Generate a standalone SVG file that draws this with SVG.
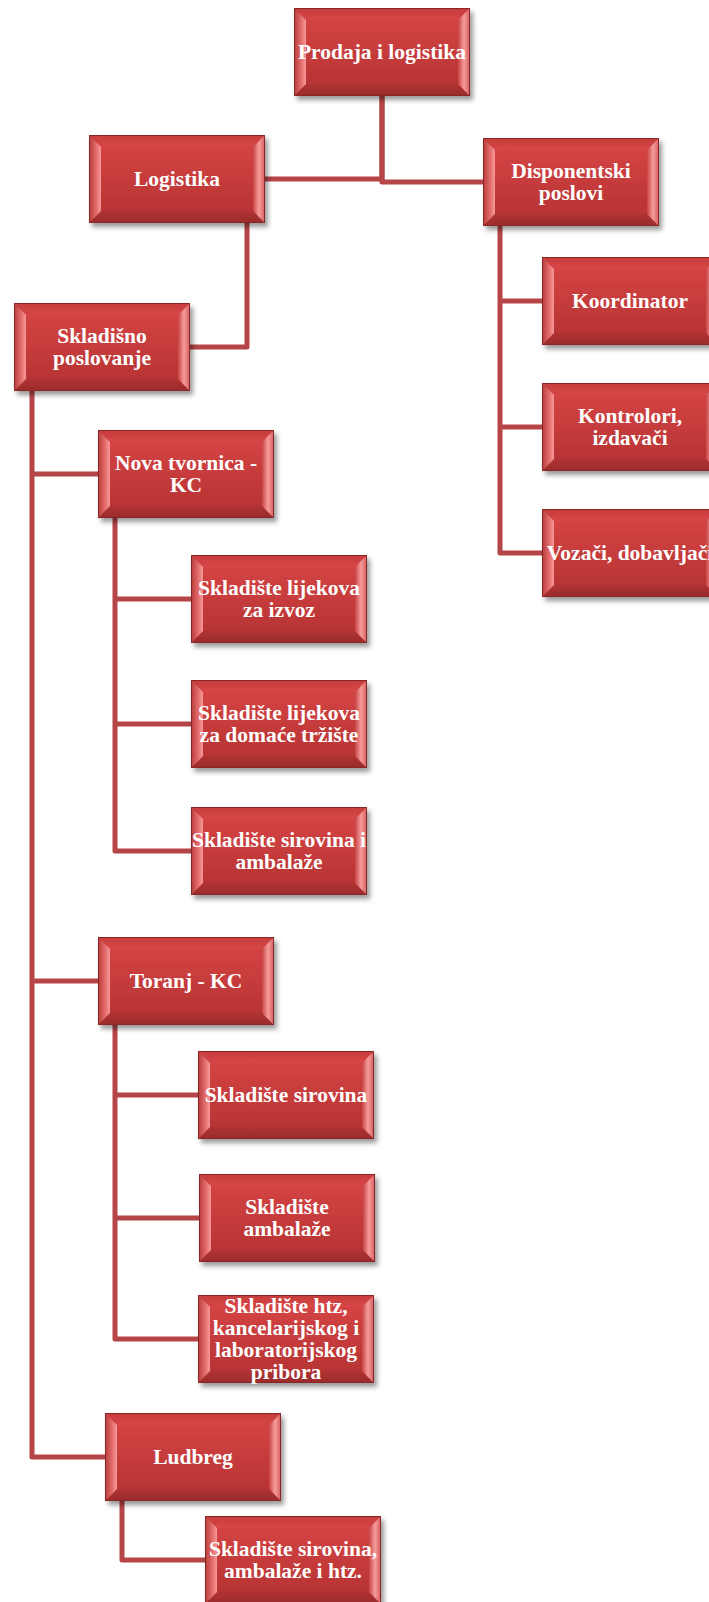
<svg xmlns="http://www.w3.org/2000/svg" xmlns:xlink="http://www.w3.org/1999/xlink" width="709" height="1602" viewBox="0 0 709 1602">
<style>
.lbl{font-family:"Liberation Serif","Times New Roman",serif;font-weight:bold;font-size:21.5px;fill:#ffffff;text-anchor:middle}
.con{fill:none;stroke:#b64548;stroke-width:5;stroke-linejoin:round;stroke-linecap:butt}
</style>
<defs>
<linearGradient id="gFace" x1="0" y1="0" x2="0" y2="1"><stop offset="0" stop-color="#d44343"/><stop offset="1" stop-color="#b83434"/></linearGradient>
<linearGradient id="gTop" x1="0" y1="0" x2="0" y2="1"><stop offset="0" stop-color="#c63c3c"/><stop offset="1" stop-color="#d84747"/></linearGradient>
<linearGradient id="gBot" x1="0" y1="0" x2="0" y2="1"><stop offset="0" stop-color="#b03333"/><stop offset="1" stop-color="#9a2b2b"/></linearGradient>
<linearGradient id="gLeft" x1="0" y1="0" x2="1" y2="0"><stop offset="0" stop-color="#b63a3a"/><stop offset="0.6" stop-color="#e46c6c"/><stop offset="1" stop-color="#f89a9a"/></linearGradient>
<linearGradient id="gRight" x1="0" y1="0" x2="1" y2="0"><stop offset="0" stop-color="#c84444"/><stop offset="0.5" stop-color="#f69c9c"/><stop offset="1" stop-color="#d55c5c"/></linearGradient>
<filter id="sh" x="-10%" y="-10%" width="125%" height="130%"><feDropShadow dx="3" dy="4" stdDeviation="2.5" flood-color="#000" flood-opacity="0.4"/></filter>
<g id="bx">
<rect x="0" y="0" width="176" height="88" fill="#b83636" filter="url(#sh)"/>
<polygon points="0,0 176,0 164,12 12,12" fill="url(#gTop)"/>
<polygon points="0,88 176,88 164,76 12,76" fill="url(#gBot)"/>
<polygon points="0,0 12,12 12,76 0,88" fill="url(#gLeft)"/>
<polygon points="176,0 164,12 164,76 176,88" fill="url(#gRight)"/>
<rect x="12" y="12" width="152" height="64" fill="url(#gFace)"/>
<rect x="0.5" y="0.5" width="175" height="87" fill="none" stroke="#8a2626" stroke-width="1"/>
</g>
</defs>
<rect width="709" height="1602" fill="#ffffff"/>
<g id="connectors">
<path class="con" d="M382 96 V179 H265"/>
<path class="con" d="M382 96 V182 H483"/>
<path class="con" d="M247 223 V347 H190"/>
<path class="con" d="M500 226 V553 H542 M500 301 H542 M500 427 H542"/>
<path class="con" d="M32 391 V1457 H105 M32 474 H98 M32 981 H98"/>
<path class="con" d="M115 518 V851 H191 M115 599 H191 M115 724 H191"/>
<path class="con" d="M115 1025 V1339 H198 M115 1095 H198 M115 1218 H199"/>
<path class="con" d="M122 1501 V1560 H205"/>
</g>
<g id="n1" transform="translate(294,8)"><use xlink:href="#bx"/><text class="lbl" x="88" y="51">Prodaja i logistika</text></g>
<g id="n2" transform="translate(89,135)"><use xlink:href="#bx"/><text class="lbl" x="88" y="51">Logistika</text></g>
<g id="n3" transform="translate(483,138)"><use xlink:href="#bx"/><text class="lbl" x="88" y="40">Disponentski</text><text class="lbl" x="88" y="62">poslovi</text></g>
<g id="n4" transform="translate(14,303)"><use xlink:href="#bx"/><text class="lbl" x="88" y="40">Skladišno</text><text class="lbl" x="88" y="62">poslovanje</text></g>
<g id="n5" transform="translate(542,257)"><use xlink:href="#bx"/><text class="lbl" x="88" y="51">Koordinator</text></g>
<g id="n6" transform="translate(542,383)"><use xlink:href="#bx"/><text class="lbl" x="88" y="40">Kontrolori,</text><text class="lbl" x="88" y="62">izdavači</text></g>
<g id="n7" transform="translate(542,509)"><use xlink:href="#bx"/><text class="lbl" x="88" y="51">Vozači, dobavljači</text></g>
<g id="n8" transform="translate(98,430)"><use xlink:href="#bx"/><text class="lbl" x="88" y="40">Nova tvornica -</text><text class="lbl" x="88" y="62">KC</text></g>
<g id="n9" transform="translate(191,555)"><use xlink:href="#bx"/><text class="lbl" x="88" y="40">Skladište lijekova</text><text class="lbl" x="88" y="62">za izvoz</text></g>
<g id="n10" transform="translate(191,680)"><use xlink:href="#bx"/><text class="lbl" x="88" y="40">Skladište lijekova</text><text class="lbl" x="88" y="62">za domaće tržište</text></g>
<g id="n11" transform="translate(191,807)"><use xlink:href="#bx"/><text class="lbl" x="88" y="40">Skladište sirovina i</text><text class="lbl" x="88" y="62">ambalaže</text></g>
<g id="n12" transform="translate(98,937)"><use xlink:href="#bx"/><text class="lbl" x="88" y="51">Toranj - KC</text></g>
<g id="n13" transform="translate(198,1051)"><use xlink:href="#bx"/><text class="lbl" x="88" y="51">Skladište sirovina</text></g>
<g id="n14" transform="translate(199,1174)"><use xlink:href="#bx"/><text class="lbl" x="88" y="40">Skladište</text><text class="lbl" x="88" y="62">ambalaže</text></g>
<g id="n15" transform="translate(198,1295)"><use xlink:href="#bx"/><text class="lbl" x="88" y="18">Skladište htz,</text><text class="lbl" x="88" y="40">kancelarijskog i</text><text class="lbl" x="88" y="62">laboratorijskog</text><text class="lbl" x="88" y="84">pribora</text></g>
<g id="n16" transform="translate(105,1413)"><use xlink:href="#bx"/><text class="lbl" x="88" y="51">Ludbreg</text></g>
<g id="n17" transform="translate(205,1516)"><use xlink:href="#bx"/><text class="lbl" x="88" y="40">Skladište sirovina,</text><text class="lbl" x="88" y="62">ambalaže i htz.</text></g>
</svg>
